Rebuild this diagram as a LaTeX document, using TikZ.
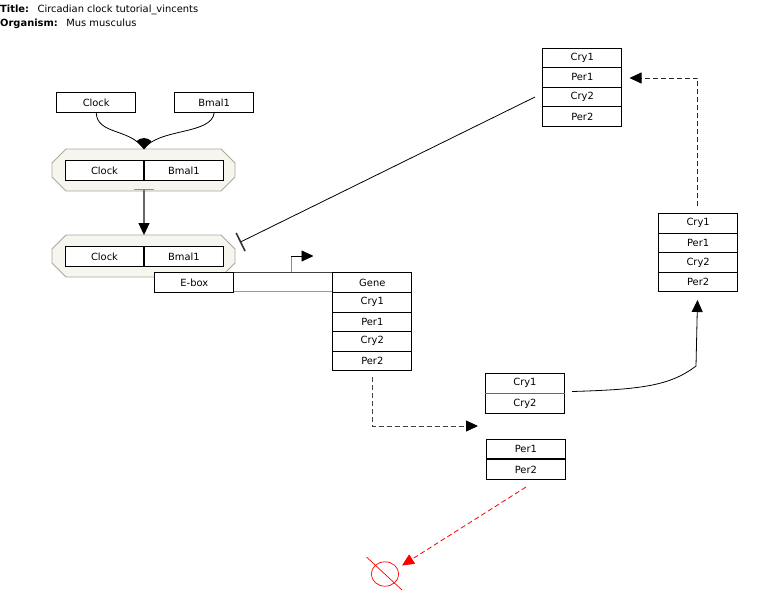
\documentclass[tikz,border=0pt]{standalone}
\usepackage{fontspec}
\setmainfont{DejaVu Sans}
\usetikzlibrary{arrows.meta}
\definecolor{cplxfill}{HTML}{F6F6EF}
\definecolor{cplxline}{HTML}{A8A89E}
\tikzset{
  x=1pt,y=-1pt,
  gene/.style={draw=black,line width=0.8pt,fill=white,minimum width=79pt,minimum height=19.6pt,
    inner sep=0pt,font=\fontsize{9.9}{11}\selectfont,anchor=north west},
  cplx/.style={draw=cplxline,line width=0.8pt,fill=cplxfill},
  heading/.style={anchor=west,inner sep=0pt,font=\fontsize{9.9}{11}\selectfont},
  tip/.style={-{Triangle[length=12pt,width=11pt,color=black]}},
  flow/.style={line width=0.8pt,tip},
  flowd/.style={line width=0.8pt,dash pattern=on 5pt off 3pt,tip},
  lost/.style={line width=0.8pt,red,dash pattern=on 5pt off 3pt,-{Triangle[length=12pt,width=11pt]}},
}
\begin{document}
\begin{tikzpicture}
\useasboundingbox (0,0) rectangle (759,613);

% page heading
\node[heading] (title) at (0,10) {\textbf{Title:}\hspace{8.5pt}Circadian clock tutorial\_vincents};
\node[heading] (organism) at (0,24) {\textbf{Organism:}\hspace{8.5pt}Mus musculus};

% complex outlines
\draw[cplx] (66,149) -- (221,149) -- (235,163) -- (235,177) -- (221,191) -- (66,191) -- (52,177) -- (52,163) -- cycle;
\draw[cplx] (66,235) -- (221,235) -- (235,249) -- (235,263) -- (221,277) -- (66,277) -- (52,263) -- (52,249) -- cycle;

% free monomers
\node[gene] (clockA) at (56.3,92.2) {Clock};
\node[gene] (bmalA) at (174.3,92.2) {Bmal1};

% first complex
\node[gene] (clockB) at (64.6,160.3) {Clock};
\node[gene] (bmalB) at (144,160.3) {Bmal1};
\draw[line width=1.3pt] (bmalB.north west) -- (bmalB.south west);

% second complex
\node[gene] (clockC) at (64.6,246.3) {Clock};
\node[gene] (bmalC) at (144,246.3) {Bmal1};
\draw[line width=1.3pt] (bmalC.north west) -- (bmalC.south west);

% promoter strand
\draw[line width=0.7pt,black!75] (233,272.3) -- (332,272.3);
\draw[line width=0.8pt,black!40] (233,291.4) -- (332,291.4);
\node[gene] (ebox) at (154.4,272.3) {E-box};

% target gene table
\node[gene] (gene) at (332.4,272.3) {Gene};
\node[gene] (cryA) at (332.4,291.9) {Cry1};
\node[gene] (perA) at (332.4,311.5) {Per1};
\node[gene] (cryB) at (332.4,331.1) {Cry2};
\node[gene] (perB) at (332.4,350.7) {Per2};

% cytoplasmic products
\node[gene] (cryC) at (485,373) {Cry1};
\node[gene] (cryD) at (485,393.4) {Cry2};
\node[gene] (perC) at (486,439.2) {Per1};
\node[gene] (perD) at (486,459.2) {Per2};
\draw[line width=1.5pt] (perD.north west) -- (perD.north east);
\draw[line width=1.1pt,black!60] (cryD.north west) -- (cryD.north east);

% nuclear pool
\node[gene] (cryE) at (658.2,213) {Cry1};
\node[gene] (perE) at (658.2,232.6) {Per1};
\node[gene] (cryF) at (658.2,252.2) {Cry2};
\node[gene] (perF) at (658.2,271.8) {Per2};

% repressor pool
\node[gene] (cryG) at (542.4,47.6) {Cry1};
\node[gene] (perG) at (542.4,67.2) {Per1};
\node[gene] (cryH) at (542.4,86.8) {Cry2};
\node[gene] (perH) at (542.4,106.4) {Per2};

% anchor points of the connectors
\coordinate (join) at (144,149);
\coordinate (cplxOut) at (144,189.5);
\coordinate (cplxIn) at (144,235);
\coordinate (tssFoot) at (291,272);
\coordinate (tssHead) at (313.5,256);
\coordinate (geneOut) at (372.3,377);
\coordinate (prodIn) at (478,426);
\coordinate (cryOut) at (572,391.5);
\coordinate (nucIn) at (697.5,300);
\coordinate (nucOut) at (697.7,206);
\coordinate (repIn) at (629.5,78);
\coordinate (inhFrom) at (535,97);
\coordinate (inhTo) at (240.5,242);
\coordinate (perOut) at (526,487);
\coordinate (sinkIn) at (402,565.5);
\coordinate (sink) at (385,574);

% binding of the monomers
\draw[line width=0.8pt] (clockA.south) .. controls (97,135) and (130,128) .. (join);
\draw[line width=0.8pt] (bmalA.south) .. controls (212,135) and (158,128) .. (join);
\fill (join) -- (136.5,141.2) .. controls (141,137) and (147,137) .. (151.5,141.2) -- cycle;

% complex translocation
\draw[line width=1pt,black!45] (134,189.5) -- (154,189.5);
\draw[line width=1.1pt,black!60,tip] (cplxOut) -- (cplxIn);

% transcription start
\draw[line width=0.8pt,black!45] (tssFoot) -- (291,256);
\draw[flow] (291,256) -- (tssHead);

% inhibition of the complex
\draw[line width=0.8pt] (inhFrom) -- (inhTo);
\draw[line width=1.6pt,black!80] (236.2,233) -- (245,251);

% expression, then transport
\draw[flowd,black!75] (geneOut) -- (372.3,426) -- (prodIn);
\draw[flow] (cryOut)
  .. controls (640,389.5) and (670,386) .. (696,366) -- (nucIn);
\draw[flowd,black!85] (nucOut) -- (697.7,78) -- (repIn);

% degradation
\draw[lost] (perOut) -- (sinkIn);
\draw[red,line width=0.7pt] (sink) ellipse [x radius=13.7pt,y radius=12.2pt];
\draw[red,line width=0.7pt] (366.5,557) -- (402,590);
\end{tikzpicture}
\end{document}
